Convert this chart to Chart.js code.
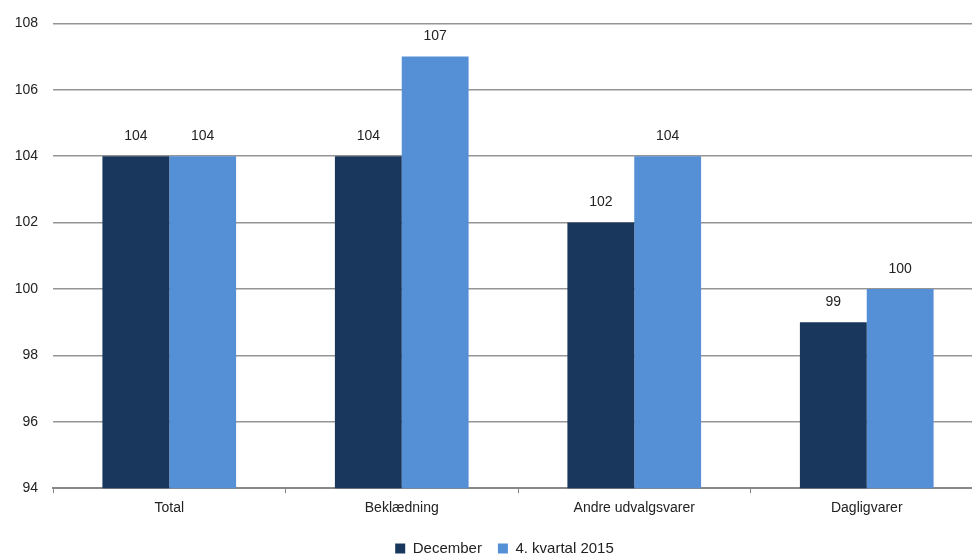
<!DOCTYPE html>
<html>
<head>
<meta charset="utf-8">
<script src="https://cdn.jsdelivr.net/npm/chart.js@4"></script>
<style>
  html, body { margin: 0; padding: 0; background: #fff; overflow: hidden; }
  #wrap { width: 983px; height: 558px; }
</style>
</head>
<body>
<div id="wrap"><canvas id="chart"></canvas></div>
<script>
// kategorier og serier
const kategorier = ['Total', 'Beklædning', 'Andre udvalgsvarer', 'Dagligvarer'];
const december = [104, 104, 102, 99];
const kvartal4 = [104, 107, 104, 100];
const serieNavne = ['December', '4. kvartal 2015'];
const farver = ['#19365c', '#558fd6'];

// tegner værdien over hver søjle
const vaerdiLabels = {
  id: 'vaerdiLabels',
  afterDatasetsDraw(chart) {
    const ctx = chart.ctx;
    ctx.save();
    ctx.font = '14px "Liberation Sans", Arial, sans-serif';
    ctx.fillStyle = '#222';
    ctx.textAlign = 'center';
    ctx.textBaseline = 'bottom';
    chart.data.datasets.forEach((ds, i) => {
      chart.getDatasetMeta(i).data.forEach((bar, j) => {
        ctx.fillText(ds.data[j], bar.x, bar.y - 13);
      });
    });
    ctx.restore();
  }
};

// flytter legenden på plads (ned og lidt til højre)
const legendFlyt = {
  id: 'legendFlyt',
  afterLayout(chart) {
    if (chart.legend) {
      chart.legend.top += 8;
      chart.legend.bottom += 8;
      chart.legend.left += 13;
      chart.legend.right += 13;
    }
  }
};

Chart.defaults.font.family = '"Liberation Sans", Arial, sans-serif';
Chart.defaults.color = '#222';

new Chart(document.getElementById('chart'), {
  type: 'bar',
  data: {
    labels: kategorier,
    datasets: [
      { label: serieNavne[0], data: december, backgroundColor: farver[0] },
      { label: serieNavne[1], data: kvartal4, backgroundColor: farver[1] }
    ]
  },
  options: {
    responsive: true,
    maintainAspectRatio: false,
    animation: false,
    categoryPercentage: 0.575,
    barPercentage: 1.0,
    layout: { padding: { top: 9, right: 0, left: 0, bottom: 0 } },
    plugins: {
      tooltip: { enabled: false },
      legend: {
        position: 'bottom',
        labels: {
          boxWidth: 10,
          boxHeight: 10,
          padding: 16,
          font: { size: 15 },
          color: '#222'
        }
      }
    },
    scales: {
      x: {
        offset: true,
        grid: {
          offset: true,
          drawOnChartArea: false,
          drawTicks: true,
          tickLength: 5,
          color: '#888'
        },
        border: { color: '#888', width: 2 },
        ticks: { font: { size: 14 }, padding: 7, color: '#222' },
        afterFit(scale) { scale.height -= 7; }
      },
      y: {
        min: 94,
        max: 108,
        ticks: { stepSize: 2, font: { size: 14 }, padding: 15, color: '#222' },
        grid: { color: '#959595', lineWidth: 1.5, drawTicks: false },
        border: { display: false },
        afterFit(scale) { scale.width = 53; }
      }
    }
  },
  plugins: [vaerdiLabels, legendFlyt]
});
</script>
</body>
</html>
